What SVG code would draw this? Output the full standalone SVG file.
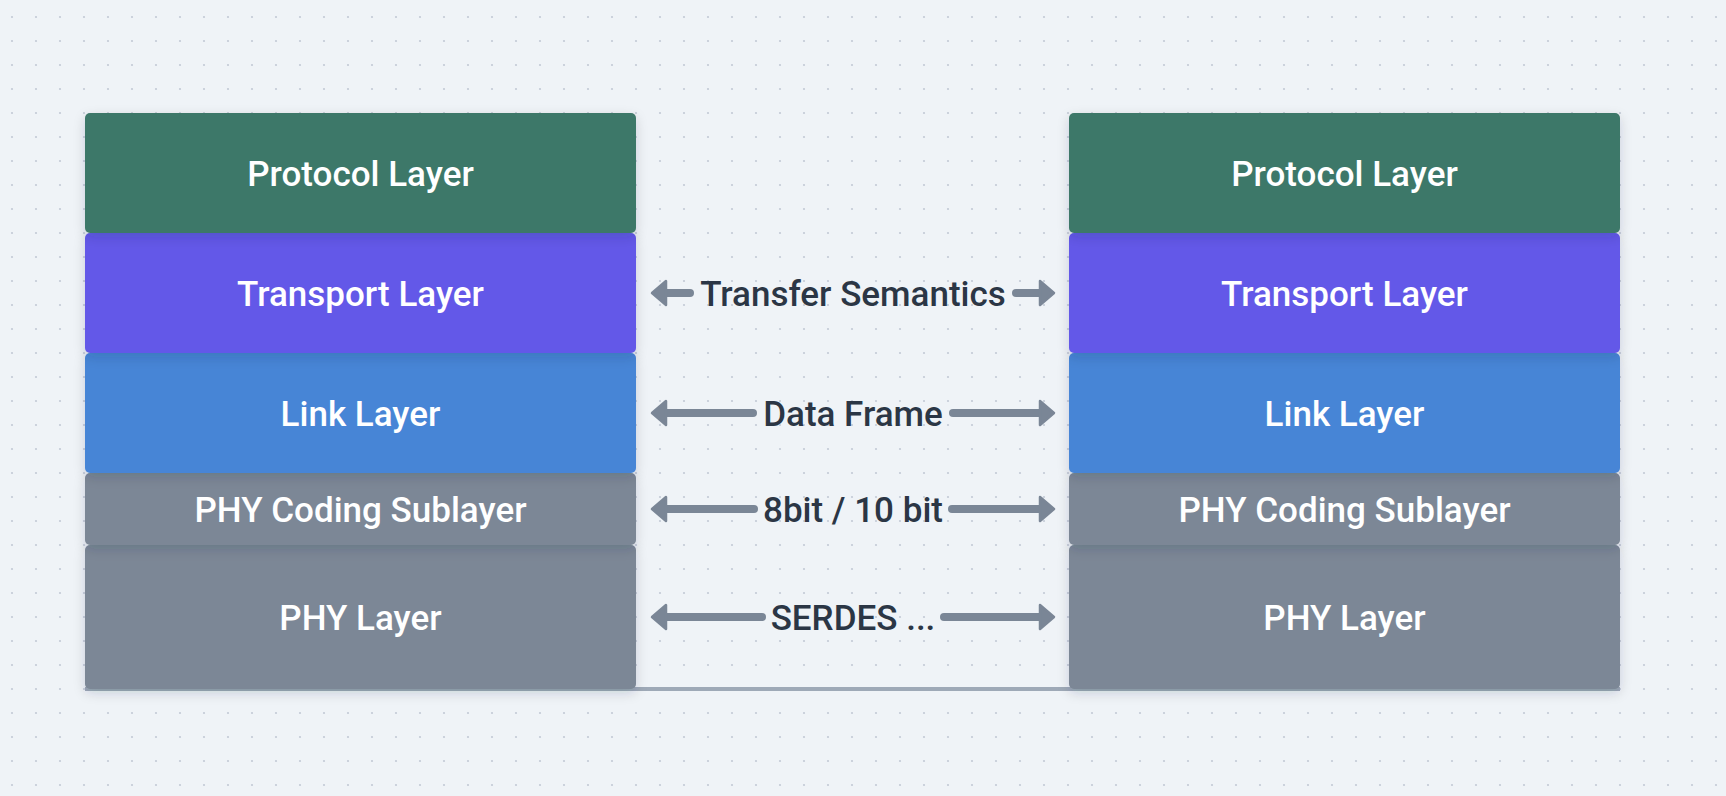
<svg xmlns="http://www.w3.org/2000/svg" width="1726" height="796" viewBox="0 0 1726 796">
  <style>
    .layer-text { font-family: Roboto, "Liberation Sans", sans-serif; font-weight: 500; font-size: 35px; fill: #ffffff; text-anchor: middle; }
    .label { font-family: Roboto, "Liberation Sans", sans-serif; font-weight: 500; font-size: 35px; fill: #2b3645; text-anchor: middle; }
    .conn { fill: none; stroke: #7a8696; stroke-width: 8; stroke-linecap: round; }
    .protocol { fill: #3d7869; }
    .transport { fill: #6358e8; }
    .link { fill: #4785d6; }
    .phy { fill: #7b8796; }
    .box { filter: url(#shadow); }
  </style>
  <defs>
    <pattern id="dots" x="0" y="0" width="24" height="24" patternUnits="userSpaceOnUse">
      <circle cx="12" cy="17" r="1.1" fill="#c3cad6"/>
    </pattern>
    <filter id="shadow" x="-10%" y="-30%" width="120%" height="170%">
      <feDropShadow dx="0" dy="4" stdDeviation="6" flood-color="#1e293b" flood-opacity="0.16"/>
    </filter>
    <marker id="arrow" viewBox="0 0 20 28" markerWidth="20" markerHeight="28" markerUnits="userSpaceOnUse" refX="6" refY="14" orient="auto">
      <path d="M3,2 L17,14 L3,26 Z" fill="#7a8696" stroke="#7a8696" stroke-width="2.5" stroke-linejoin="round"/>
    </marker>
  </defs>

  <rect x="0" y="0" width="1726" height="796" fill="#eff3f7"/>
  <rect x="0" y="0" width="1726" height="796" fill="url(#dots)"/>

  <rect x="85" y="687" width="1535" height="4" fill="#9ea9b7"/>

  <g id="left-stack">
    <g id="left-phy">
      <rect class="box phy" x="85" y="545" width="551" height="144" rx="5"/>
      <text class="layer-text" x="360.5" y="629.5">PHY Layer</text>
    </g>
    <g id="left-phy-coding">
      <rect class="box phy" x="85" y="473" width="551" height="72" rx="5"/>
      <text class="layer-text" x="360.5" y="521.5">PHY Coding Sublayer</text>
    </g>
    <g id="left-link">
      <rect class="box link" x="85" y="353" width="551" height="120" rx="5"/>
      <text class="layer-text" x="360.5" y="425.5">Link Layer</text>
    </g>
    <g id="left-transport">
      <rect class="box transport" x="85" y="233" width="551" height="120" rx="5"/>
      <text class="layer-text" x="360.5" y="305.5">Transport Layer</text>
    </g>
    <g id="left-protocol">
      <rect class="box protocol" x="85" y="113" width="551" height="120" rx="5"/>
      <text class="layer-text" x="360.5" y="185.5">Protocol Layer</text>
    </g>
  </g>

  <g id="right-stack">
    <g id="right-phy">
      <rect class="box phy" x="1069" y="545" width="551" height="144" rx="5"/>
      <text class="layer-text" x="1344.5" y="629.5">PHY Layer</text>
    </g>
    <g id="right-phy-coding">
      <rect class="box phy" x="1069" y="473" width="551" height="72" rx="5"/>
      <text class="layer-text" x="1344.5" y="521.5">PHY Coding Sublayer</text>
    </g>
    <g id="right-link">
      <rect class="box link" x="1069" y="353" width="551" height="120" rx="5"/>
      <text class="layer-text" x="1344.5" y="425.5">Link Layer</text>
    </g>
    <g id="right-transport">
      <rect class="box transport" x="1069" y="233" width="551" height="120" rx="5"/>
      <text class="layer-text" x="1344.5" y="305.5">Transport Layer</text>
    </g>
    <g id="right-protocol">
      <rect class="box protocol" x="1069" y="113" width="551" height="120" rx="5"/>
      <text class="layer-text" x="1344.5" y="185.5">Protocol Layer</text>
    </g>
  </g>

  <g id="connectors">
    <g id="conn-transfer">
      <path class="conn" d="M690,293 L663,293" marker-end="url(#arrow)"/>
      <path class="conn" d="M1016,293 L1043,293" marker-end="url(#arrow)"/>
      <text class="label" x="853" y="305.5">Transfer Semantics</text>
    </g>
    <g id="conn-frame">
      <path class="conn" d="M753,413 L663,413" marker-end="url(#arrow)"/>
      <path class="conn" d="M953,413 L1043,413" marker-end="url(#arrow)"/>
      <text class="label" x="853" y="425.5">Data Frame</text>
    </g>
    <g id="conn-coding">
      <path class="conn" d="M754,509 L663,509" marker-end="url(#arrow)"/>
      <path class="conn" d="M952,509 L1043,509" marker-end="url(#arrow)"/>
      <text class="label" x="853" y="521.5">8bit / 10 bit</text>
    </g>
    <g id="conn-serdes">
      <path class="conn" d="M762,617 L663,617" marker-end="url(#arrow)"/>
      <path class="conn" d="M944,617 L1043,617" marker-end="url(#arrow)"/>
      <text class="label" x="853" y="629.5">SERDES ...</text>
    </g>
  </g>
</svg>
